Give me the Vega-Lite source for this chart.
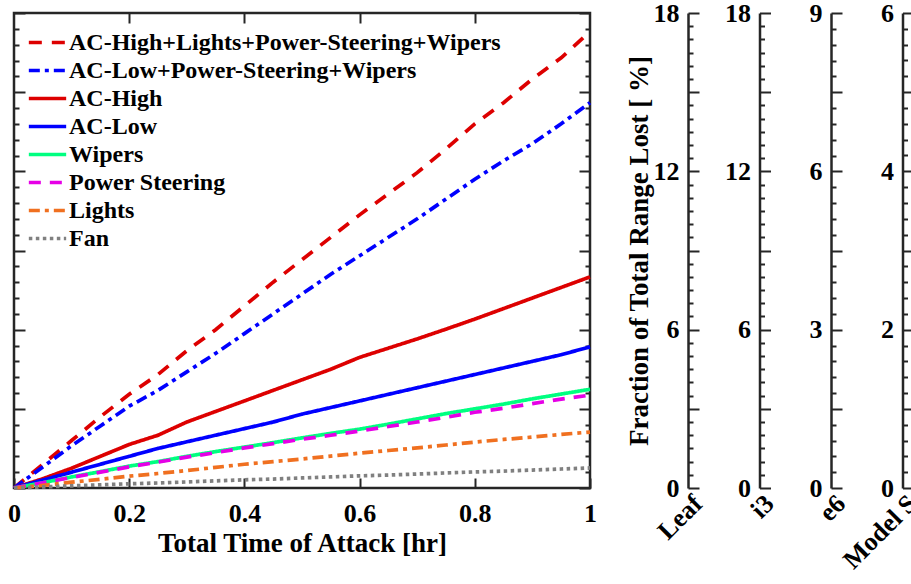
{
  "$schema": "https://vega.github.io/schema/vega-lite/v6.json",
  "background": "white",
  "padding": {"left": 5, "top": 0, "right": 0, "bottom": 0},
  "config": {
    "font": "Liberation Serif",
    "view": {"stroke": null},
    "axis": {
      "labelFont": "Liberation Serif", "labelFontWeight": "bold", "labelColor": "#000000",
      "titleFont": "Liberation Serif", "titleFontWeight": "bold", "titleColor": "#000000",
      "tickColor": "#262626", "tickWidth": 2, "domainColor": "#262626", "domainWidth": 2.5,
      "grid": false, "labelOverlap": false, "labelBound": false, "labelFlush": false
    }
  },
  "datasets": {
    "lines": [
      {"series":"AC-High+Lights+Power-Steering+Wipers","t":0,"v":0},{"series":"AC-High+Lights+Power-Steering+Wipers","t":0.05,"v":0.9},{"series":"AC-High+Lights+Power-Steering+Wipers","t":0.1,"v":1.8},{"series":"AC-High+Lights+Power-Steering+Wipers","t":0.15,"v":2.7},{"series":"AC-High+Lights+Power-Steering+Wipers","t":0.2,"v":3.55},{"series":"AC-High+Lights+Power-Steering+Wipers","t":0.25,"v":4.3},{"series":"AC-High+Lights+Power-Steering+Wipers","t":0.3,"v":5.2},{"series":"AC-High+Lights+Power-Steering+Wipers","t":0.35,"v":6.0},{"series":"AC-High+Lights+Power-Steering+Wipers","t":0.4,"v":6.9},{"series":"AC-High+Lights+Power-Steering+Wipers","t":0.45,"v":7.8},{"series":"AC-High+Lights+Power-Steering+Wipers","t":0.5,"v":8.65},{"series":"AC-High+Lights+Power-Steering+Wipers","t":0.55,"v":9.5},{"series":"AC-High+Lights+Power-Steering+Wipers","t":0.6,"v":10.35},{"series":"AC-High+Lights+Power-Steering+Wipers","t":0.65,"v":11.15},{"series":"AC-High+Lights+Power-Steering+Wipers","t":0.7,"v":11.95},{"series":"AC-High+Lights+Power-Steering+Wipers","t":0.75,"v":12.85},{"series":"AC-High+Lights+Power-Steering+Wipers","t":0.8,"v":13.8},{"series":"AC-High+Lights+Power-Steering+Wipers","t":0.85,"v":14.6},{"series":"AC-High+Lights+Power-Steering+Wipers","t":0.9,"v":15.5},{"series":"AC-High+Lights+Power-Steering+Wipers","t":0.95,"v":16.3},{"series":"AC-High+Lights+Power-Steering+Wipers","t":1,"v":17.3},
      {"series":"AC-Low+Power-Steering+Wipers","t":0,"v":0},{"series":"AC-Low+Power-Steering+Wipers","t":0.05,"v":0.8},{"series":"AC-Low+Power-Steering+Wipers","t":0.1,"v":1.6},{"series":"AC-Low+Power-Steering+Wipers","t":0.15,"v":2.35},{"series":"AC-Low+Power-Steering+Wipers","t":0.2,"v":3.1},{"series":"AC-Low+Power-Steering+Wipers","t":0.25,"v":3.7},{"series":"AC-Low+Power-Steering+Wipers","t":0.3,"v":4.4},{"series":"AC-Low+Power-Steering+Wipers","t":0.35,"v":5.1},{"series":"AC-Low+Power-Steering+Wipers","t":0.4,"v":5.85},{"series":"AC-Low+Power-Steering+Wipers","t":0.45,"v":6.6},{"series":"AC-Low+Power-Steering+Wipers","t":0.5,"v":7.35},{"series":"AC-Low+Power-Steering+Wipers","t":0.55,"v":8.1},{"series":"AC-Low+Power-Steering+Wipers","t":0.6,"v":8.8},{"series":"AC-Low+Power-Steering+Wipers","t":0.65,"v":9.5},{"series":"AC-Low+Power-Steering+Wipers","t":0.7,"v":10.2},{"series":"AC-Low+Power-Steering+Wipers","t":0.75,"v":10.95},{"series":"AC-Low+Power-Steering+Wipers","t":0.8,"v":11.7},{"series":"AC-Low+Power-Steering+Wipers","t":0.85,"v":12.4},{"series":"AC-Low+Power-Steering+Wipers","t":0.9,"v":13.05},{"series":"AC-Low+Power-Steering+Wipers","t":0.95,"v":13.8},{"series":"AC-Low+Power-Steering+Wipers","t":1,"v":14.6},
      {"series":"AC-High","t":0,"v":0},{"series":"AC-High","t":0.05,"v":0.35},{"series":"AC-High","t":0.1,"v":0.75},{"series":"AC-High","t":0.15,"v":1.2},{"series":"AC-High","t":0.2,"v":1.65},{"series":"AC-High","t":0.25,"v":2.0},{"series":"AC-High","t":0.3,"v":2.5},{"series":"AC-High","t":0.35,"v":2.9},{"series":"AC-High","t":0.4,"v":3.3},{"series":"AC-High","t":0.45,"v":3.7},{"series":"AC-High","t":0.5,"v":4.1},{"series":"AC-High","t":0.55,"v":4.5},{"series":"AC-High","t":0.6,"v":4.95},{"series":"AC-High","t":0.65,"v":5.3},{"series":"AC-High","t":0.7,"v":5.65},{"series":"AC-High","t":0.75,"v":6.02},{"series":"AC-High","t":0.8,"v":6.4},{"series":"AC-High","t":0.85,"v":6.8},{"series":"AC-High","t":0.9,"v":7.2},{"series":"AC-High","t":0.95,"v":7.6},{"series":"AC-High","t":1,"v":8.0},
      {"series":"AC-Low","t":0,"v":0},{"series":"AC-Low","t":0.05,"v":0.3},{"series":"AC-Low","t":0.1,"v":0.6},{"series":"AC-Low","t":0.15,"v":0.9},{"series":"AC-Low","t":0.2,"v":1.2},{"series":"AC-Low","t":0.25,"v":1.5},{"series":"AC-Low","t":0.3,"v":1.75},{"series":"AC-Low","t":0.35,"v":2.0},{"series":"AC-Low","t":0.4,"v":2.25},{"series":"AC-Low","t":0.45,"v":2.5},{"series":"AC-Low","t":0.5,"v":2.8},{"series":"AC-Low","t":0.55,"v":3.05},{"series":"AC-Low","t":0.6,"v":3.3},{"series":"AC-Low","t":0.65,"v":3.55},{"series":"AC-Low","t":0.7,"v":3.8},{"series":"AC-Low","t":0.75,"v":4.05},{"series":"AC-Low","t":0.8,"v":4.3},{"series":"AC-Low","t":0.85,"v":4.55},{"series":"AC-Low","t":0.9,"v":4.8},{"series":"AC-Low","t":0.95,"v":5.05},{"series":"AC-Low","t":1,"v":5.35},
      {"series":"Wipers","t":0,"v":0},{"series":"Wipers","t":0.05,"v":0.2},{"series":"Wipers","t":0.1,"v":0.42},{"series":"Wipers","t":0.15,"v":0.62},{"series":"Wipers","t":0.2,"v":0.83},{"series":"Wipers","t":0.25,"v":1.0},{"series":"Wipers","t":0.3,"v":1.2},{"series":"Wipers","t":0.35,"v":1.38},{"series":"Wipers","t":0.4,"v":1.55},{"series":"Wipers","t":0.45,"v":1.72},{"series":"Wipers","t":0.5,"v":1.9},{"series":"Wipers","t":0.55,"v":2.07},{"series":"Wipers","t":0.6,"v":2.23},{"series":"Wipers","t":0.65,"v":2.42},{"series":"Wipers","t":0.7,"v":2.62},{"series":"Wipers","t":0.75,"v":2.82},{"series":"Wipers","t":0.8,"v":3.0},{"series":"Wipers","t":0.85,"v":3.18},{"series":"Wipers","t":0.9,"v":3.38},{"series":"Wipers","t":0.95,"v":3.56},{"series":"Wipers","t":1,"v":3.74},
      {"series":"Power Steering","t":0,"v":0},{"series":"Power Steering","t":0.05,"v":0.2},{"series":"Power Steering","t":0.1,"v":0.4},{"series":"Power Steering","t":0.15,"v":0.6},{"series":"Power Steering","t":0.2,"v":0.8},{"series":"Power Steering","t":0.25,"v":0.98},{"series":"Power Steering","t":0.3,"v":1.17},{"series":"Power Steering","t":0.35,"v":1.34},{"series":"Power Steering","t":0.4,"v":1.52},{"series":"Power Steering","t":0.45,"v":1.68},{"series":"Power Steering","t":0.5,"v":1.85},{"series":"Power Steering","t":0.55,"v":2.0},{"series":"Power Steering","t":0.6,"v":2.16},{"series":"Power Steering","t":0.65,"v":2.33},{"series":"Power Steering","t":0.7,"v":2.5},{"series":"Power Steering","t":0.75,"v":2.68},{"series":"Power Steering","t":0.8,"v":2.87},{"series":"Power Steering","t":0.85,"v":3.02},{"series":"Power Steering","t":0.9,"v":3.2},{"series":"Power Steering","t":0.95,"v":3.37},{"series":"Power Steering","t":1,"v":3.52},
      {"series":"Lights","t":0,"v":0},{"series":"Lights","t":0.05,"v":0.1},{"series":"Lights","t":0.1,"v":0.22},{"series":"Lights","t":0.15,"v":0.33},{"series":"Lights","t":0.2,"v":0.45},{"series":"Lights","t":0.25,"v":0.55},{"series":"Lights","t":0.3,"v":0.66},{"series":"Lights","t":0.35,"v":0.78},{"series":"Lights","t":0.4,"v":0.9},{"series":"Lights","t":0.45,"v":1.0},{"series":"Lights","t":0.5,"v":1.1},{"series":"Lights","t":0.55,"v":1.21},{"series":"Lights","t":0.6,"v":1.32},{"series":"Lights","t":0.65,"v":1.42},{"series":"Lights","t":0.7,"v":1.52},{"series":"Lights","t":0.75,"v":1.63},{"series":"Lights","t":0.8,"v":1.74},{"series":"Lights","t":0.85,"v":1.84},{"series":"Lights","t":0.9,"v":1.93},{"series":"Lights","t":0.95,"v":2.03},{"series":"Lights","t":1,"v":2.12},
      {"series":"Fan","t":0,"v":0},{"series":"Fan","t":0.05,"v":0.04},{"series":"Fan","t":0.1,"v":0.08},{"series":"Fan","t":0.15,"v":0.12},{"series":"Fan","t":0.2,"v":0.16},{"series":"Fan","t":0.25,"v":0.19},{"series":"Fan","t":0.3,"v":0.23},{"series":"Fan","t":0.35,"v":0.27},{"series":"Fan","t":0.4,"v":0.31},{"series":"Fan","t":0.45,"v":0.34},{"series":"Fan","t":0.5,"v":0.38},{"series":"Fan","t":0.55,"v":0.42},{"series":"Fan","t":0.6,"v":0.46},{"series":"Fan","t":0.65,"v":0.49},{"series":"Fan","t":0.7,"v":0.53},{"series":"Fan","t":0.75,"v":0.57},{"series":"Fan","t":0.8,"v":0.61},{"series":"Fan","t":0.85,"v":0.64},{"series":"Fan","t":0.9,"v":0.68},{"series":"Fan","t":0.95,"v":0.72},{"series":"Fan","t":1,"v":0.76}
    ]
  },
  "hconcat": [
    {
      "width": 576,
      "height": 475,
      "view": {"stroke": "#262626", "strokeWidth": 2.5},
      "layer": [
        {
          "data": {"name": "lines"},
          "mark": {"type": "line", "strokeWidth": 3.7, "strokeCap": "butt"},
          "encoding": {
            "x": {"field": "t", "type": "quantitative", "scale": {"domain": [0, 1], "nice": false},
              "axis": {"orient": "bottom", "values": [0, 0.2, 0.4, 0.6, 0.8, 1], "tickSize": -10, "labelPadding": 22, "domain": false,
                "labelFontSize": 26, "labelExpr": "format(datum.value, '~g')", "title": "Total Time of Attack [hr]", "titleFontSize": 27, "titlePadding": 4}},
            "y": {"field": "v", "type": "quantitative", "scale": {"domain": [0, 18], "nice": false},
              "axis": {"orient": "left", "values": [0,0.6,1.2,1.8,2.4,3,3.6,4.2,4.8,5.4,6,6.6,7.2,7.8,8.4,9,9.6,10.2,10.8,11.4,12,12.6,13.2,13.8,14.4,15,15.6,16.2,16.8,17.4,18],
                "labels": false, "domain": false, "title": null,
                "tickSize": {"condition": {"test": "abs(datum.value/3 - round(datum.value/3)) < 0.001", "value": -11}, "value": -5}}},
            "color": {"field": "series", "type": "nominal",
              "scale": {"domain": ["AC-High+Lights+Power-Steering+Wipers", "AC-Low+Power-Steering+Wipers", "AC-High", "AC-Low", "Wipers", "Power Steering", "Lights", "Fan"],
                "range": ["#dd0000", "#0000ff", "#dd0000", "#0000ff", "#00ff80", "#e600e6", "#f07020", "#808080"]},
              "legend": {"orient": "none", "legendX": 19, "legendY": 15, "title": null, "symbolType": "M-1.5,0H1.5", "symbolSize": 620, "symbolStrokeWidth": 3.7,
                "labelFont": "Liberation Serif", "labelFontSize": 24, "labelFontWeight": "bold", "labelColor": "#000000", "labelLimit": 700, "labelOffset": 7, "rowPadding": 1, "padding": 0}},
            "strokeDash": {"field": "series", "type": "nominal",
              "scale": {"domain": ["AC-High+Lights+Power-Steering+Wipers", "AC-Low+Power-Steering+Wipers", "AC-High", "AC-Low", "Wipers", "Power Steering", "Lights", "Fan"],
                "range": [[13, 10], [11, 5, 4, 5], [1, 0], [1, 0], [1, 0], [12, 9], [11, 5, 4, 5], [3.5, 3.5]]},
              "legend": {"orient": "none", "legendX": 19, "legendY": 15, "title": null, "symbolType": "M-1.5,0H1.5", "symbolSize": 620, "symbolStrokeWidth": 3.7,
                "labelFont": "Liberation Serif", "labelFontSize": 24, "labelFontWeight": "bold", "labelColor": "#000000", "labelLimit": 700, "labelOffset": 7, "rowPadding": 1, "padding": 0}}
          }
        },
        {
          "data": {"name": "lines"},
          "mark": {"type": "line", "opacity": 0},
          "encoding": {
            "detail": {"field": "series"},
            "x": {"field": "t", "type": "quantitative",
              "axis": {"orient": "top", "values": [0.2, 0.4, 0.6, 0.8], "tickSize": -10, "labels": false, "domain": false, "title": null}},
            "y": {"field": "v", "type": "quantitative",
              "axis": {"orient": "right", "values": [0,0.6,1.2,1.8,2.4,3,3.6,4.2,4.8,5.4,6,6.6,7.2,7.8,8.4,9,9.6,10.2,10.8,11.4,12,12.6,13.2,13.8,14.4,15,15.6,16.2,16.8,17.4,18],
                "labels": false, "domain": false, "title": null,
                "tickSize": {"condition": {"test": "abs(datum.value/3 - round(datum.value/3)) < 0.001", "value": -11}, "value": -5}}}
          }
        }
      ],
      "resolve": {"axis": {"x": "independent", "y": "independent"}}
    },
    {
      "spacing": 49.5,
      "bounds": "flush",
      "hconcat": [
        {
          "width": 22, "height": 475,
          "data": {"values": [{"vehicle": "Leaf", "pct": 0}]},
          "mark": {"type": "bar"},
          "encoding": {
            "x": {"field": "vehicle", "type": "nominal", "axis": {"labelAngle": -45, "ticks": false, "domain": false, "title": null, "labelFontSize": 26, "labelPadding": 2, "labelOffset": -10}},
            "y": {"field": "pct", "type": "quantitative", "scale": {"domain": [0, 18], "nice": false},
              "axis": {"values": [0,0.5,1,1.5,2,2.5,3,3.5,4,4.5,5,5.5,6,6.5,7,7.5,8,8.5,9,9.5,10,10.5,11,11.5,12,12.5,13,13.5,14,14.5,15,15.5,16,16.5,17,17.5,18],
                "labelExpr": "abs(datum.value/6 - round(datum.value/6)) < 0.001 ? format(datum.value, 'd') : ''",
                "labelFontSize": 26, "labelPadding": 20,
                "tickSize": {"condition": {"test": "abs(datum.value/3 - round(datum.value/3)) < 0.001", "value": -11}, "value": -5},
                "title": "Fraction of Total Range Lost [ %]", "titleFont": "Liberation Serif", "titleFontWeight": "bold", "titleFontSize": 27, "titlePadding": 0}}
          }
        },
        {
          "width": 22, "height": 475,
          "data": {"values": [{"vehicle": "i3", "pct": 0}]},
          "mark": {"type": "bar"},
          "encoding": {
            "x": {"field": "vehicle", "type": "nominal", "axis": {"labelAngle": -45, "ticks": false, "domain": false, "title": null, "labelFontSize": 26, "labelPadding": 2, "labelOffset": -10}},
            "y": {"field": "pct", "type": "quantitative", "scale": {"domain": [0, 18], "nice": false},
              "axis": {"values": [0,0.5,1,1.5,2,2.5,3,3.5,4,4.5,5,5.5,6,6.5,7,7.5,8,8.5,9,9.5,10,10.5,11,11.5,12,12.5,13,13.5,14,14.5,15,15.5,16,16.5,17,17.5,18],
                "labelExpr": "abs(datum.value/6 - round(datum.value/6)) < 0.001 ? format(datum.value, 'd') : ''",
                "labelFontSize": 26, "labelPadding": 20,
                "tickSize": {"condition": {"test": "abs(datum.value/3 - round(datum.value/3)) < 0.001", "value": -11}, "value": -5},
                "title": null}}
          }
        },
        {
          "width": 22, "height": 475,
          "data": {"values": [{"vehicle": "e6", "pct": 0}]},
          "mark": {"type": "bar"},
          "encoding": {
            "x": {"field": "vehicle", "type": "nominal", "axis": {"labelAngle": -45, "ticks": false, "domain": false, "title": null, "labelFontSize": 26, "labelPadding": 2, "labelOffset": -10}},
            "y": {"field": "pct", "type": "quantitative", "scale": {"domain": [0, 9], "nice": false},
              "axis": {"values": [0,0.3,0.6,0.9,1.2,1.5,1.8,2.1,2.4,2.7,3,3.3,3.6,3.9,4.2,4.5,4.8,5.1,5.4,5.7,6,6.3,6.6,6.9,7.2,7.5,7.8,8.1,8.4,8.7,9],
                "labelExpr": "abs(datum.value/3 - round(datum.value/3)) < 0.001 ? format(datum.value, 'd') : ''",
                "labelFontSize": 26, "labelPadding": 20,
                "tickSize": {"condition": {"test": "abs(datum.value/1.5 - round(datum.value/1.5)) < 0.001", "value": -11}, "value": -5},
                "title": null}}
          }
        },
        {
          "width": 22, "height": 475,
          "data": {"values": [{"vehicle": "Model S", "pct": 0}]},
          "mark": {"type": "bar"},
          "encoding": {
            "x": {"field": "vehicle", "type": "nominal", "axis": {"labelAngle": -45, "ticks": false, "domain": false, "title": null, "labelFontSize": 26, "labelPadding": 2, "labelOffset": -10}},
            "y": {"field": "pct", "type": "quantitative", "scale": {"domain": [0, 6], "nice": false},
              "axis": {"values": [0,0.2,0.4,0.6,0.8,1,1.2,1.4,1.6,1.8,2,2.2,2.4,2.6,2.8,3,3.2,3.4,3.6,3.8,4,4.2,4.4,4.6,4.8,5,5.2,5.4,5.6,5.8,6],
                "labelExpr": "abs(datum.value/2 - round(datum.value/2)) < 0.001 ? format(datum.value, 'd') : ''",
                "labelFontSize": 26, "labelPadding": 20,
                "tickSize": {"condition": {"test": "abs(datum.value - round(datum.value)) < 0.001", "value": -11}, "value": -5},
                "title": null}}
          }
        }
      ]
    }
  ],
  "spacing": 98,
  "bounds": "flush"
}
